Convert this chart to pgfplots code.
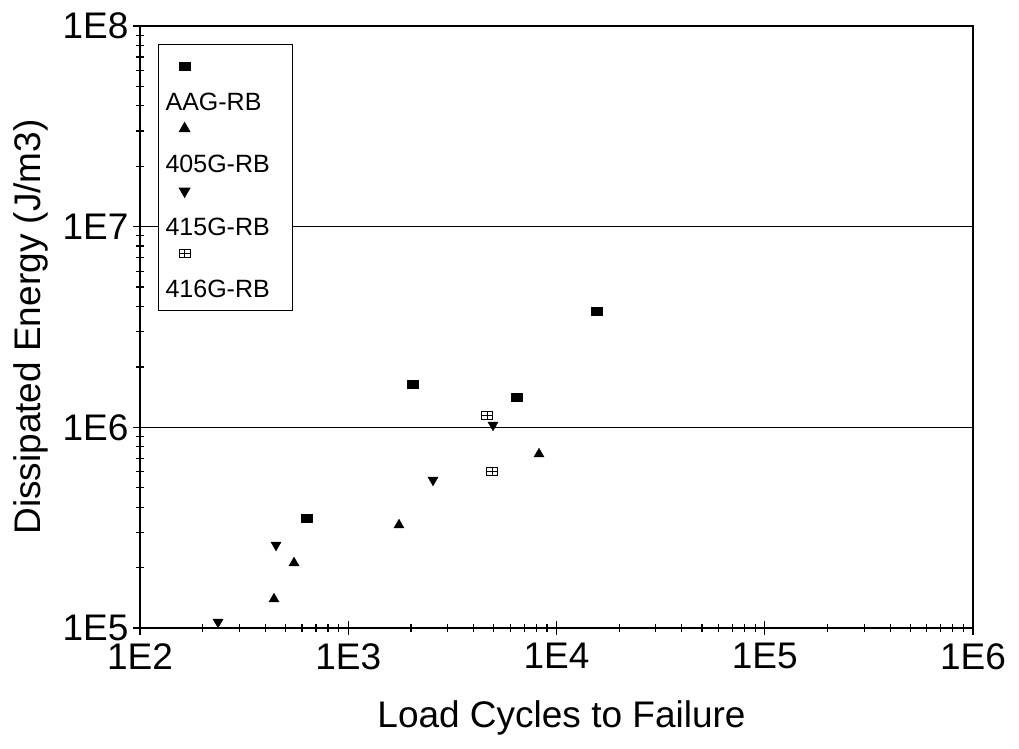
\documentclass[border=0pt]{standalone}
\usepackage{pgfplots}
\pgfplotsset{compat=1.18}
\usepackage{fontspec}
\setmainfont{Liberation Sans}
\usetikzlibrary{plotmarks}

\pgfdeclareplotmark{myrect}{%
  \pgfpathrectangle{\pgfpoint{-1.35\pgfplotmarksize}{-\pgfplotmarksize}}{\pgfpoint{2.7\pgfplotmarksize}{2\pgfplotmarksize}}%
  \pgfusepathqfillstroke}
\pgfdeclareplotmark{myboxplus}{%
  \pgfpathrectangle{\pgfpoint{-1.4\pgfplotmarksize}{-\pgfplotmarksize}}{\pgfpoint{2.8\pgfplotmarksize}{2\pgfplotmarksize}}%
  \pgfpathmoveto{\pgfpoint{-1.4\pgfplotmarksize}{0pt}}\pgfpathlineto{\pgfpoint{1.4\pgfplotmarksize}{0pt}}%
  \pgfpathmoveto{\pgfpoint{0pt}{-\pgfplotmarksize}}\pgfpathlineto{\pgfpoint{0pt}{\pgfplotmarksize}}%
  \pgfusepathqstroke}

\pgfplotsset{
  mylegend/.style={legend image code/.code={%
      \path[draw=none,fill=none] (0bp,-13bp) rectangle (0bp,49.5bp);
      \draw[overlay] plot coordinates {(21bp,36bp)};
  }},
}

\pgfplotstableread{
x y
634 3.53e5
2046 1.644e6
6460 1.416e6
15640 3.80e6
}\aag
\pgfplotstableread{
x y
440 1.394e5
549 2.11e5
1753 3.26e5
8240 7.36e5
}\gfour
\pgfplotstableread{
x y
237 1.07e5
450 2.59e5
2553 5.46e5
4955 1.027e6
}\gfifteen
\pgfplotstableread{
x y
4639 1.152e6
4900 6.06e5
}\gsixteen

\begin{document}
\begin{tikzpicture}
\useasboundingbox (-140bp,-121bp) rectangle (879bp,628bp);
\begin{axis}[
  at={(0,0)}, anchor=south west,
  scale only axis, width=833bp, height=602bp,
  xmode=log, ymode=log,
  xmin=1e2, xmax=1e6, ymin=1e5, ymax=1e8,
  xtick={1e2,1e3,1e4,1e5,1e6},
  xticklabels={1E2,1E3,1E4,1E5,1E6},
  ytick={1e5,1e6,1e7,1e8},
  yticklabels={1E5,1E6,1E7,1E8},
  tick pos=left,
  tick align=center,
  major tick length=14bp,
  minor tick length=8bp,
  every tick/.style={black, line width=1.2bp},
  axis line style={black, line width=1.6bp},
  ymajorgrids=true,
  major grid style={black, solid, line width=1.2bp},
  ticklabel style={font=\fontsize{37bp}{42bp}\selectfont},
  xticklabel style={yshift=-5bp},
  yticklabel style={xshift=-1bp},
  xlabel={Load Cycles to Failure},
  ylabel={Dissipated Energy (J/m3)},
  label style={font=\fontsize{37bp}{42bp}\selectfont},
  xlabel style={at={(axis description cs:0.506,-0.1487)}, anchor=center},
  ylabel style={at={(axis description cs:-0.131,0.5)}, anchor=center, rotate=0},
  legend style={at={(axis description cs:0.0216,0.970)}, anchor=north west,
    draw=black, line width=1.2bp, fill=white,
    inner xsep=5bp, inner ysep=8bp, row sep=0bp,
    font=\fontsize{25bp}{29bp}\selectfont,
    cells={anchor=west, inner sep=3bp, text width=120bp, align=left}},
]
\addplot[only marks, mark=myrect, mark size=4bp, black, mylegend] table {\aag};
\addlegendentry{AAG-RB}
\addplot[only marks, mark=triangle*, mark size=5.8bp, black, mylegend] table {\gfour};
\addlegendentry{405G-RB}
\addplot[only marks, mark=triangle*, mark size=5.8bp, mark options={rotate=180}, black, mylegend] table {\gfifteen};
\addlegendentry{415G-RB}
\addplot[only marks, mark=myboxplus, mark size=4bp, black, line width=0.9bp, mylegend] table {\gsixteen};
\addlegendentry{416G-RB}
\end{axis}
\end{tikzpicture}
\end{document}
